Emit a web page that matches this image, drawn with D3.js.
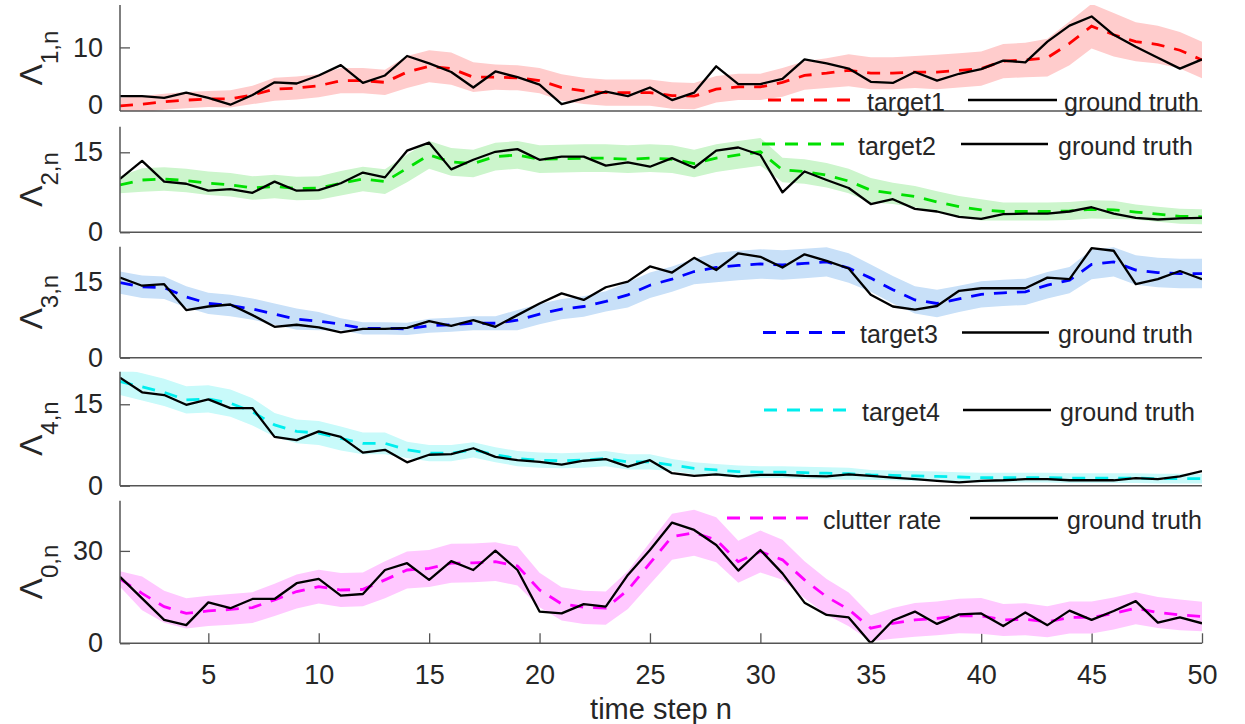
<!DOCTYPE html>
<html>
<head>
<meta charset="utf-8">
<script src="https://cdn.jsdelivr.net/npm/d3@7"></script>
<style>
html, body { margin: 0; padding: 0; background: #ffffff; }
svg { display: block; font-family: "Liberation Sans", Arial, Helvetica, sans-serif; }
</style>
</head>
<body>
<svg id="chart" width="1245" height="724"></svg>
<script>
// ---------------- data ----------------
const steps = [1,2,3,4,5,6,7,8,9,10,11,12,13,14,15,16,17,18,19,20,21,22,23,24,25,
               26,27,28,29,30,31,32,33,34,35,36,37,38,39,40,41,42,43,44,45,46,47,48,49,50];
const xTickValues = [5,10,15,20,25,30,35,40,45,50];

// target 1
const estimate1 = [-0.2,0.1,0.5,0.8,1.0,1.0,1.7,2.7,2.9,3.3,4.2,4.2,3.9,5.7,6.7,6.3,4.8,4.8,4.7,4.2,
                   3.0,2.4,2.1,2.1,2.1,1.6,1.5,2.7,3.1,3.1,3.9,5.1,5.5,6.0,5.5,5.5,5.7,5.7,6.0,6.3,
                   7.6,7.8,8.2,10.7,13.7,12.2,11.0,10.5,9.5,7.8];
const truth1 = [1.5,1.5,1.2,2.1,1.2,0.0,1.7,3.9,3.7,5.1,6.9,3.8,5.1,8.5,7.2,5.7,3.0,5.8,4.8,3.5,
                0.1,1.1,2.3,1.5,3.0,0.8,2.1,6.7,3.6,3.6,4.5,7.9,7.2,6.3,4.0,3.8,5.7,4.2,5.4,6.2,
                7.7,7.4,11.0,13.8,15.4,12.2,10.1,8.2,6.3,7.9];
const spread1 = [1.4,1.4,1.4,1.4,1.4,1.5,1.6,2.0,2.0,2.0,2.2,2.2,2.2,2.8,2.8,2.8,2.6,2.2,2.2,2.2,
                 2.3,2.3,2.3,2.3,2.3,2.3,2.3,2.3,2.3,2.3,2.5,2.5,2.6,2.8,2.8,2.8,2.8,3.0,3.0,3.0,
                 3.0,3.0,3.3,3.8,3.9,3.8,3.4,3.3,3.2,3.2];
const yTicks1 = [0,10];

// target 2
const estimate2 = [8.9,9.8,10.0,9.7,9.2,8.9,8.3,8.6,8.2,8.3,9.2,10.0,9.5,12.0,14.5,13.2,12.9,14.2,14.5,13.7,
                   13.8,13.9,13.9,13.7,13.9,13.7,12.9,13.9,14.5,15.1,11.7,11.4,10.7,9.6,7.9,7.3,6.7,5.7,4.8,4.2,
                   3.9,3.9,3.9,4.0,4.3,4.2,3.8,3.4,3.0,2.9];
const truth2 = [10.0,13.4,9.5,9.1,7.8,8.1,7.4,9.5,7.8,7.9,9.2,11.2,10.3,15.3,16.8,11.8,13.6,15.1,15.6,13.6,
                14.2,14.2,12.5,13.1,12.3,13.9,12.1,15.3,15.9,14.5,7.5,11.4,9.8,8.3,5.3,6.2,4.4,3.9,2.9,2.5,
                3.4,3.5,3.5,3.9,4.7,3.5,2.7,2.4,2.6,2.7];
const spread2 = [1.6,2.2,2.2,2.2,2.2,2.2,2.2,2.2,2.2,2.2,2.3,2.3,2.3,2.6,2.6,2.6,2.6,2.6,2.6,2.6,
                 2.6,2.6,2.6,2.6,2.6,2.6,2.6,2.6,2.6,2.6,2.3,2.3,2.3,2.3,2.3,2.0,2.0,2.0,2.0,2.0,
                 1.7,1.7,1.7,1.7,1.7,1.7,1.4,1.4,1.4,1.4];
const yTicks2 = [0,15];

// target 3
const estimate3 = [14.8,14.0,13.8,12.0,10.7,10.3,9.6,8.6,7.6,7.2,6.6,5.8,5.8,5.7,6.3,6.5,6.8,6.8,7.4,8.6,
                   9.6,10.1,11.1,12.4,14.3,15.5,17.0,17.8,18.2,18.5,18.3,18.6,18.9,17.7,15.7,13.4,11.4,10.7,11.6,12.5,
                   12.8,13.0,14.3,15.3,18.4,18.9,17.3,16.8,16.6,16.6];
const truth3 = [15.8,14.2,14.5,9.4,10.1,10.5,8.4,6.1,6.5,6.0,5.0,5.7,5.7,5.9,7.2,6.3,7.4,6.1,8.4,10.7,
                12.7,11.4,13.9,15.0,18.0,16.8,19.7,17.3,20.6,19.9,17.8,20.4,19.1,17.6,12.4,10.1,9.5,10.2,13.2,13.7,
                13.7,13.7,15.8,15.5,21.6,21.1,14.5,15.5,17.1,15.5];
const spread3 = [2.2,2.2,2.2,2.1,2.1,2.1,2.1,2.1,2.1,1.8,1.2,1.2,1.2,1.2,1.4,1.4,1.4,1.4,2.0,2.0,
                 2.0,2.0,2.0,2.5,2.5,2.5,2.5,2.9,2.9,2.9,2.9,2.9,2.9,2.9,2.7,2.7,2.7,2.7,2.6,2.6,
                 2.6,2.6,2.6,2.6,2.9,2.9,2.9,2.9,2.9,2.9];
const yTicks3 = [0,15];

// target 4
const estimate4 = [19.2,18.2,17.2,15.8,16.0,15.2,13.6,11.2,10.0,9.7,8.7,7.8,7.8,6.6,6.0,6.0,6.6,5.7,5.0,4.7,
                   4.6,4.7,5.0,4.4,4.4,3.8,3.2,2.9,2.6,2.5,2.5,2.4,2.3,2.2,2.0,1.9,1.8,1.7,1.6,1.5,
                   1.5,1.5,1.5,1.4,1.4,1.4,1.4,1.3,1.3,1.3];
const truth4 = [19.9,17.2,16.7,14.9,15.9,14.3,14.3,9.0,8.4,10.0,9.0,6.1,6.6,4.3,5.7,5.8,6.9,5.3,4.7,4.4,
                3.9,4.6,4.9,3.5,4.7,2.3,1.8,2.1,1.7,2.0,2.0,1.8,1.7,2.1,1.8,1.5,1.2,0.9,0.6,0.9,
                1.0,1.2,1.2,1.0,1.0,1.0,1.4,1.2,1.7,2.7];
const spread4 = [2.5,2.5,2.5,2.5,2.5,2.5,2.5,2.2,2.2,2.2,2.2,2.0,2.0,1.5,1.5,1.5,1.4,1.4,1.4,1.4,
                 1.4,1.4,1.4,1.4,1.4,1.1,1.1,1.1,1.1,1.1,1.1,1.1,1.1,1.1,0.9,0.9,0.9,0.9,0.9,0.9,
                 0.9,0.9,0.9,0.9,0.9,0.9,0.9,0.9,0.9,0.9];
const yTicks4 = [0,15];

// clutter rate
const estimate0 = [20.9,16.2,11.9,9.7,10.5,11.0,11.6,14.1,16.8,18.4,17.3,17.5,20.6,23.8,24.3,26.0,26.1,26.5,25.1,17.3,
                   12.8,11.7,11.4,17.3,26.0,34.6,35.9,33.6,26.5,29.8,27.1,20.6,15.1,11.0,4.9,6.5,7.6,8.1,8.9,8.9,
                   7.6,7.8,7.0,8.4,8.4,9.7,11.4,10.0,9.2,8.7];
const truth0 = [21.6,14.6,7.6,5.9,13.3,11.4,14.4,14.4,19.5,20.9,15.5,16.0,23.8,26.0,20.6,26.7,23.8,30.1,23.8,10.3,
                9.7,12.7,11.9,22.2,30.3,39.2,36.8,31.9,23.6,30.3,22.7,13.2,9.2,8.4,0.0,7.4,10.3,6.3,9.4,9.7,
                5.6,10.0,5.9,10.6,7.6,10.5,13.7,6.7,8.4,6.5];
const spread0 = [2.5,5.5,5.2,4.9,4.9,5.0,5.0,5.2,5.5,5.5,5.5,5.5,6.0,6.0,6.0,6.3,6.3,6.3,6.3,5.6,
                 5.4,5.4,5.4,6.2,6.8,7.5,7.5,7.3,6.8,6.8,6.5,6.0,5.8,5.5,4.2,5.0,5.5,5.5,5.6,5.8,
                 5.2,5.2,5.0,5.2,5.2,5.2,5.2,5.0,5.0,4.8];
const yTicks0 = [0,30];

const seriesNames = ["target1","target2","target3","target4","clutter rate"];
const truthName = "ground truth";
const yLabelSubs = ["1,n","2,n","3,n","4,n","0,n"];
const xLabel = "time step n";

// ---------------- layout & styles ----------------
const panels = [
  {est: estimate1, tru: truth1, spr: spread1, ticks: yTicks1, top: 5,     bottom: 111,   domain: [-1.1, 17.4],
   line: "#ff0000", fill: "#ffcccc", leg: {ly: 100,   d0: 768, d1: 850, t: 867, s0: 968, s1: 1057, g: 1064}},
  {est: estimate2, tru: truth2, spr: spread2, ticks: yTicks2, top: 126.7, bottom: 232.3, domain: [0, 19.8],
   line: "#00e000", fill: "#ccf5cc", leg: {ly: 144,   d0: 762, d1: 845, t: 858, s0: 961, s1: 1048, g: 1058}},
  {est: estimate3, tru: truth3, spr: spread3, ticks: yTicks3, top: 246.7, bottom: 357.7, domain: [0, 21.9],
   line: "#0000ff", fill: "#c8e0f8", leg: {ly: 332.5, d0: 763, d1: 845, t: 860, s0: 962, s1: 1049, g: 1058}},
  {est: estimate4, tru: truth4, spr: spread4, ticks: yTicks4, top: 371.7, bottom: 485.7, domain: [0, 21],
   line: "#00eeee", fill: "#c8fafa", leg: {ly: 410,   d0: 764, d1: 846, t: 862, s0: 963, s1: 1051, g: 1060}},
  {est: estimate0, tru: truth0, spr: spread0, ticks: yTicks0, top: 500.7, bottom: 643.3, domain: [0, 46.3],
   line: "#ff00ff", fill: "#ffc8ff", leg: {ly: 518,   d0: 727, d1: 808, t: 823, s0: 970, s1: 1058, g: 1067}}
];

const AXIS = "#555555";
const TEXT = "#262626";
const FONT = '"Liberation Sans", Arial, Helvetica, sans-serif';
const DASH = "13,10";

const svg = d3.select("#chart");
const x = d3.scaleLinear().domain([1, 50]).range([120, 1202]);

panels.forEach((p, i) => {
  const y = d3.scaleLinear().domain(p.domain).range([p.bottom, p.top]);

  // y-axis ticks and labels (drawn under the data)
  const yAxis = d3.axisLeft(y).tickValues(p.ticks).tickSize(-10).tickSizeOuter(0).tickPadding(17)
    .tickFormat(d3.format("d"));
  const ga = svg.append("g").attr("transform", "translate(120,0)").call(yAxis);
  ga.select(".domain").remove();
  ga.attr("font-size", 27).attr("font-family", FONT);
  ga.selectAll(".tick line").attr("stroke", AXIS).attr("stroke-width", 1.3);
  ga.selectAll(".tick text").attr("fill", TEXT);

  if (i === panels.length - 1) {
    const xAxis = d3.axisBottom(x).tickValues(xTickValues).tickSize(-10).tickSizeOuter(0).tickPadding(22)
      .tickFormat(d3.format("d"));
    const gx = svg.append("g").attr("transform", `translate(0,${p.bottom})`).call(xAxis);
    gx.select(".domain").remove();
    gx.attr("font-size", 27).attr("font-family", FONT);
    gx.selectAll(".tick line").attr("stroke", AXIS).attr("stroke-width", 1.3);
    gx.selectAll(".tick text").attr("fill", TEXT);
  }

  // clip
  const clipId = "clip" + i;
  svg.append("clipPath").attr("id", clipId)
    .append("rect").attr("x", x(1)).attr("y", p.top)
    .attr("width", x(50) - x(1)).attr("height", p.bottom - p.top);

  const gd = svg.append("g").attr("clip-path", `url(#${clipId})`);

  const area = d3.area()
    .x((d, j) => x(steps[j]))
    .y0((d, j) => y(p.est[j] - p.spr[j]))
    .y1((d, j) => y(p.est[j] + p.spr[j]));
  gd.append("path").datum(p.est).attr("d", area).attr("fill", p.fill).attr("stroke", "none");

  const lineGen = d3.line().x((d, j) => x(steps[j])).y(d => y(d));
  gd.append("path").datum(p.est).attr("d", lineGen)
    .attr("fill", "none").attr("stroke", p.line).attr("stroke-width", 2.8)
    .attr("stroke-dasharray", DASH);
  gd.append("path").datum(p.tru).attr("d", lineGen)
    .attr("fill", "none").attr("stroke", "#000000").attr("stroke-width", 2.3)
    .attr("stroke-linejoin", "round");

  // axis lines on top
  svg.append("line").attr("x1", x(1)).attr("x2", x(1)).attr("y1", p.top).attr("y2", p.bottom)
    .attr("stroke", AXIS).attr("stroke-width", 1.5);
  svg.append("line").attr("x1", x(1)).attr("x2", x(50)).attr("y1", p.bottom).attr("y2", p.bottom)
    .attr("stroke", AXIS).attr("stroke-width", 1.5);

  // legend
  const L = p.leg;
  const gl = svg.append("g").attr("font-family", FONT).attr("font-size", 25).attr("fill", TEXT);
  gl.append("line").attr("x1", L.d0).attr("x2", L.d1).attr("y1", L.ly).attr("y2", L.ly)
    .attr("stroke", p.line).attr("stroke-width", 2.8).attr("stroke-dasharray", DASH);
  gl.append("text").attr("x", L.t).attr("y", L.ly + 10.5).text(seriesNames[i]);
  gl.append("line").attr("x1", L.s0).attr("x2", L.s1).attr("y1", L.ly).attr("y2", L.ly)
    .attr("stroke", "#000000").attr("stroke-width", 2.3);
  gl.append("text").attr("x", L.g).attr("y", L.ly + 10.5).text(truthName);

  // y label
  const cy = (p.top + p.bottom) / 2;
  const yl = svg.append("text")
    .attr("transform", `translate(42,${cy}) rotate(-90)`)
    .attr("text-anchor", "middle")
    .attr("font-family", FONT).attr("fill", TEXT);
  yl.append("tspan").attr("font-size", 32).text("Λ");
  yl.append("tspan").attr("font-size", 24).attr("dy", 16).text(yLabelSubs[i]);
});

// x label
svg.append("text")
  .attr("x", (x(1) + x(50)) / 2).attr("y", 719)
  .attr("text-anchor", "middle")
  .attr("font-family", FONT).attr("font-size", 29).attr("fill", TEXT)
  .text(xLabel);
</script>
</body>
</html>
